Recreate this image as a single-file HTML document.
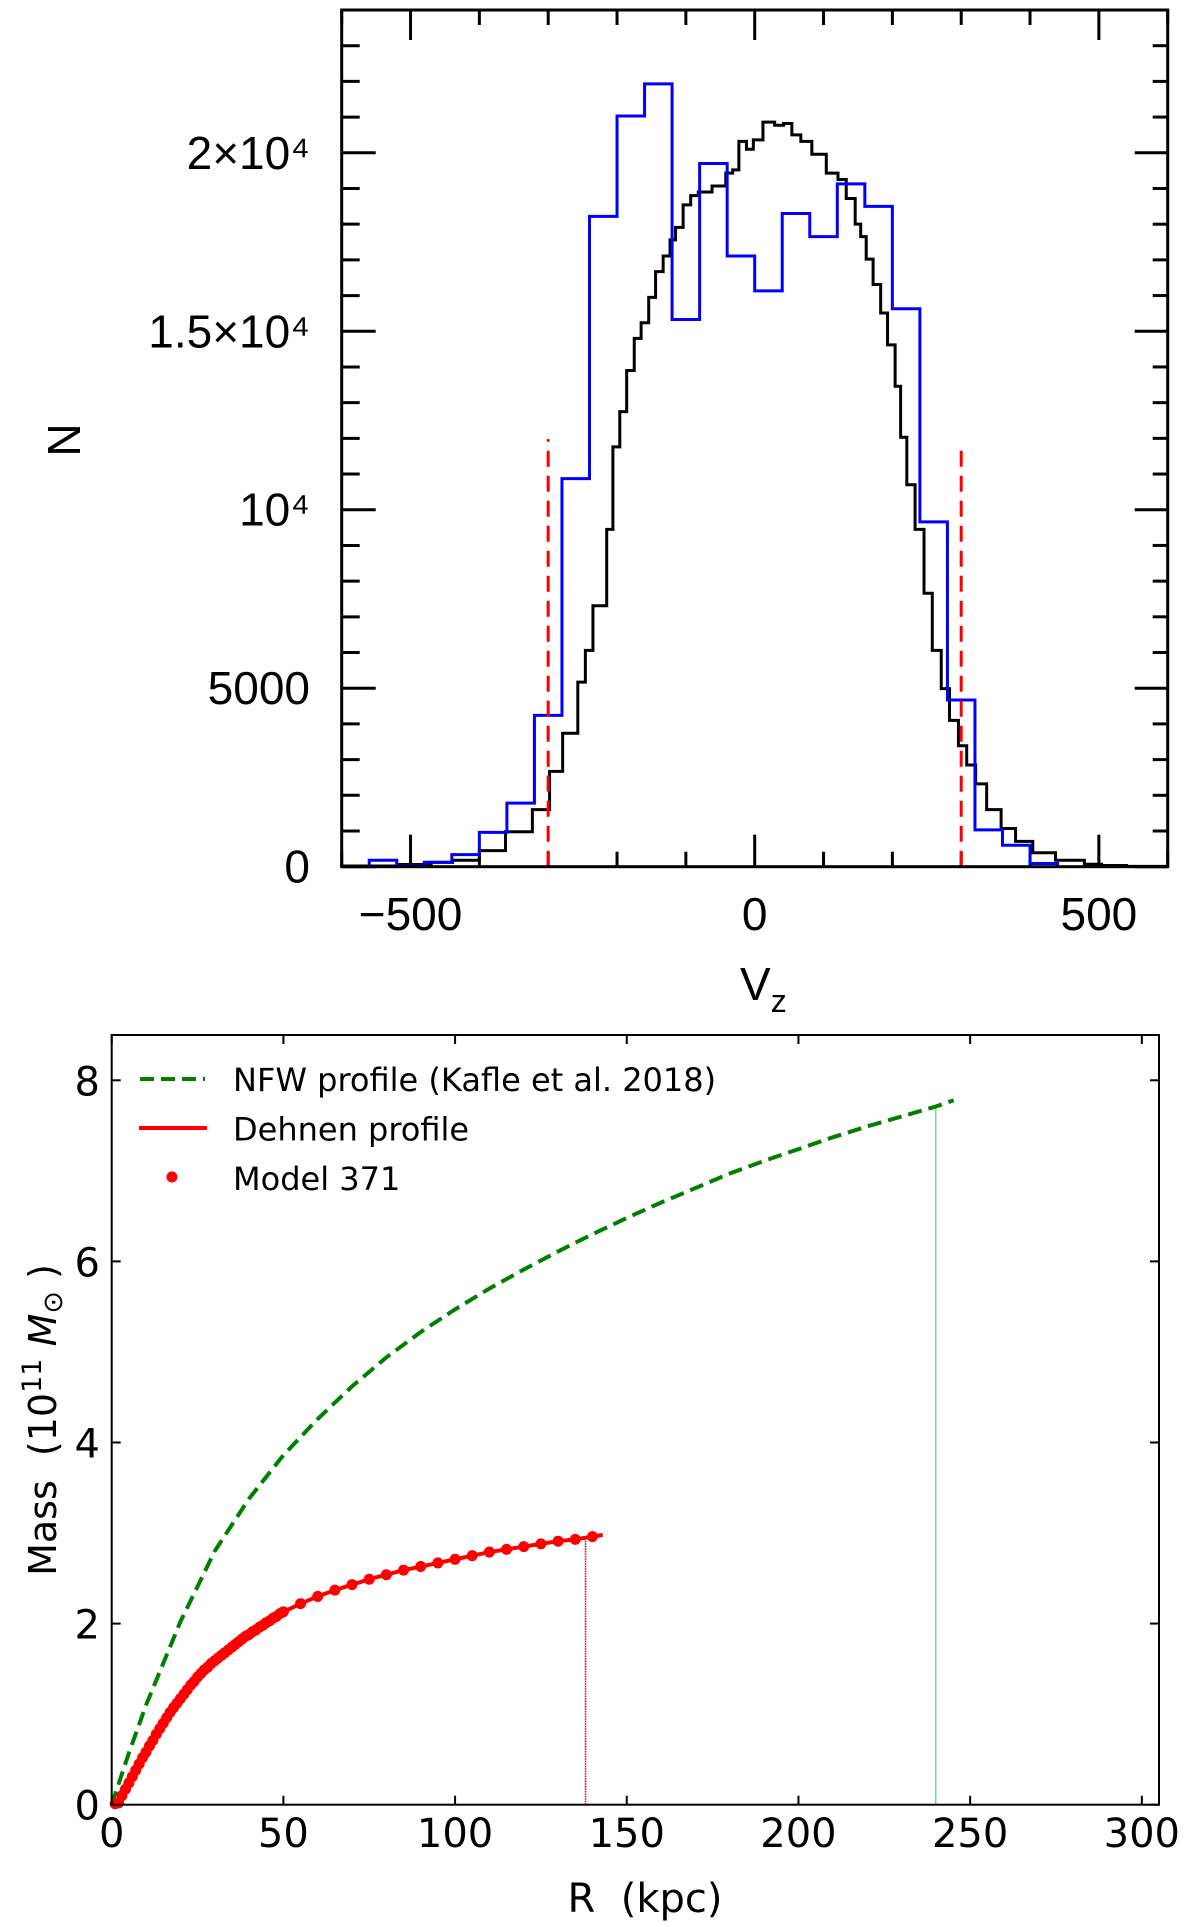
<!DOCTYPE html>
<html><head><meta charset="utf-8"><style>
html,body{margin:0;padding:0;background:#fff;}
svg{display:block;}
</style></head><body>
<svg id="fig" xmlns="http://www.w3.org/2000/svg" width="1200" height="1927" viewBox="0 0 1200 1927">
<rect width="1200" height="1927" fill="#fff"/>
<g id="top"></g>
<g id="bot"></g>
</svg>
<script>
// ---------- Top panel data ----------
const blueEdges = [-560,-520,-480,-440,-400,-360,-320,-280,-240,-200,-160,-120,-80,-40,0,40,80,120,160,200,240,280,320,360,400,440];
const blueCounts = [180,20,125,340,960,1780,4240,10870,18220,21030,21930,15330,19700,17110,16130,18300,17650,19130,18500,15630,9660,4670,1030,600,90];
const blackX = [-600,-520,-470,-439,-400,-362,-323,-298,-279,-257,-246,-235,-215,-206,-196,-186,-175,-165,-154,-144,-133,-123,-115,-104,-93,-82,-62,-42,-32,-23,-12,-2,12,29,42,54,67,83,104,121,133,146,154,162,172,183,193,204,212,221,233,246,258,271,283,296,308,321,337,358,379,404,437,479,504,540];
const blackN = [20,60,120,180,450,980,1600,2670,3740,5170,6060,7310,9450,11760,12750,13900,14800,15240,15950,16670,17110,17560,17910,18540,18800,18900,19070,19430,19520,20320,20100,20360,20860,20770,20820,20500,20320,19960,19430,19250,18720,18000,17650,17020,16310,15510,14620,13460,12030,10700,9450,7660,6060,4990,4100,3390,2850,2320,1600,1070,710,390,180,70,35,10];
const cutX = [-300,300];
const cutTop = [11980,11680];
const topYTicks = [0,5000,10000,15000,20000];
const topYLabels = ["0","5000","10⁴","1.5×10⁴","2×10⁴"];
const topXTicks = [-500,0,500];
const topXLabels = ["−500","0","500"];

// ---------- Bottom panel data ----------
const nfwR = [0,5,10,20,30,40,50,60,70,80,90,100,110,120,130,140,150,160,170,180,190,200,210,220,230,240,245.2];
const nfwM = [0,0.57,1.10,2.02,2.80,3.38,3.86,4.26,4.62,4.94,5.22,5.47,5.70,5.91,6.11,6.30,6.48,6.65,6.81,6.97,7.11,7.24,7.37,7.49,7.60,7.71,7.78];
const dehR = [0,2,4,6,8,10,12,14,16,18,20,22,24,26,28,30,32,34,36,38,40,42,44,46,48,50,55,60,65,70,75,80,85,90,95,100,105,110,115,120,125,130,135,140,143];
const dehM = [0,0.02,0.17,0.31,0.45,0.58,0.71,0.84,0.96,1.07,1.17,1.27,1.36,1.45,1.52,1.59,1.65,1.71,1.77,1.83,1.88,1.93,1.98,2.03,2.08,2.13,2.22,2.30,2.37,2.43,2.49,2.54,2.59,2.63,2.67,2.71,2.75,2.79,2.82,2.85,2.88,2.91,2.93,2.96,2.98];
const modelR = [1,2,3,4,5,6,7,8,9,10,11,12,13,14,15,16,17,18,19,20,21,22,23,24,25,26,27,28,29,30,31,32,33,34,35,36,37,38,39,40,41,42,43,44,45,46,47,48,49,50,55,60,65,70,75,80,85,90,95,100,105,110,115,120,125,130,135,140];
const modelM = [0.01,0.02,0.10,0.17,0.24,0.31,0.38,0.45,0.52,0.58,0.65,0.71,0.78,0.84,0.90,0.96,1.02,1.07,1.12,1.17,1.22,1.27,1.32,1.36,1.41,1.45,1.49,1.52,1.56,1.59,1.62,1.65,1.68,1.71,1.74,1.77,1.80,1.83,1.86,1.88,1.91,1.93,1.96,1.98,2.01,2.03,2.06,2.08,2.11,2.13,2.22,2.30,2.37,2.43,2.49,2.54,2.59,2.63,2.67,2.71,2.75,2.79,2.82,2.85,2.88,2.91,2.93,2.96];
const botXTicks = [0,50,100,150,200,250,300];
const botYTicks = [0,2,4,6,8];
const nfwVLine = [240, 7.70];
const dehVLine = [138, 2.95];

const NS = "http://www.w3.org/2000/svg";
function mk(parent, tag, attrs, text){
  const e = document.createElementNS(NS, tag);
  for (const k in attrs) e.setAttribute(k, attrs[k]);
  if (text !== undefined) e.textContent = text;
  parent.appendChild(e);
  return e;
}

// ---------- Top panel ----------
const T = document.getElementById('top');
const tL=341.7, tR=1167.7, tT=10, tB=866.7;
const tx = v => tL + (v + 600) / 1200 * (tR - tL);
const ty = n => tB - n / 24000 * (tB - tT);

for (let v = -600; v <= 600; v += 100) {
  const major = (v % 500 === 0);
  const len = major ? 32 : 15;
  const b = mk(T,'line',{x1:tx(v),x2:tx(v),y1:tB,y2:tB-len,stroke:'#000','stroke-width':3});
  
  
  const t = mk(T,'line',{x1:tx(v),x2:tx(v),y1:tT,y2:tT+(major?30:15),stroke:'#000','stroke-width':3});
  
  
}
for (let n = 0; n <= 24000; n += 1000) {
  const major = (n % 5000 === 0);
  const len = major ? 34 : 18;
  const l = mk(T,'line',{x1:tL,x2:tL+len,y1:ty(n),y2:ty(n),stroke:'#000','stroke-width':3});
  
  
  const r = mk(T,'line',{x1:tR,x2:tR-(major?33:15),y1:ty(n),y2:ty(n),stroke:'#000','stroke-width':3});
  
  
}
let d = 'M' + tx(blackX[0]) + ',' + ty(0);
for (let i = 0; i < blackX.length; i++) {
  const x0 = tx(blackX[i]);
  const x1 = tx(i + 1 < blackX.length ? blackX[i+1] : 600);
  d += ' L' + x0 + ',' + ty(blackN[i]) + ' L' + x1 + ',' + ty(blackN[i]);
}
const bh = mk(T,'path',{d:d,fill:'none',stroke:'#000','stroke-width':3});


d = 'M' + tx(blueEdges[0]) + ',' + ty(0);
for (let i = 0; i < blueCounts.length; i++) {
  d += ' L' + tx(blueEdges[i]) + ',' + ty(blueCounts[i]) + ' L' + tx(blueEdges[i+1]) + ',' + ty(blueCounts[i]);
}
d += ' L' + tx(blueEdges[blueEdges.length-1]) + ',' + ty(0);
const blh = mk(T,'path',{d:d,fill:'none',stroke:'#0000ff','stroke-width':3});


for (let i = 0; i < cutX.length; i++) {
  const c = mk(T,'line',{x1:tx(cutX[i]),x2:tx(cutX[i]),y1:ty(0),y2:ty(cutTop[i]),stroke:'#ff0000','stroke-width':3,'stroke-dasharray':'16,9'});
  
  
}
const tf = mk(T,'rect',{x:tL,y:tT,width:tR-tL,height:tB-tT,fill:'none',stroke:'#000','stroke-width':3});


for (let i = 0; i < topYTicks.length; i++) {
  const t = mk(T,'text',{x:310,y:ty(topYTicks[i])+16,'text-anchor':'end','font-family':'Liberation Sans, sans-serif','font-size':46,fill:'#000'},topYLabels[i]);
  
  
}
for (let i = 0; i < topXTicks.length; i++) {
  const t = mk(T,'text',{x:tx(topXTicks[i]),y:930,'text-anchor':'middle','font-family':'Liberation Sans, sans-serif','font-size':46,fill:'#000'},topXLabels[i]);
  
  
}
const nl = mk(T,'text',{x:0,y:0,transform:'translate(80,440) rotate(-90)','text-anchor':'middle','font-family':'Liberation Sans, sans-serif','font-size':46,fill:'#000'},'N');


const vl = mk(T,'text',{x:740,y:1000,'font-family':'Liberation Sans, sans-serif','font-size':46,fill:'#000'},'V');


mk(vl,'tspan',{dy:12,'font-size':32},'z');

// ---------- Bottom panel ----------
const B = document.getElementById('bot');
const bL=111.7, bR=1159, bT=1035, bB=1804.7;
const bx = r => bL + r / 305 * (bR - bL);
const by = m => bB - m / 8.5 * (bB - bT);

for (const v of botXTicks) {
  const a = mk(B,'line',{x1:bx(v),x2:bx(v),y1:bB,y2:bB-9,stroke:'#000','stroke-width':2});
  
  
  const b2 = mk(B,'line',{x1:bx(v),x2:bx(v),y1:bT,y2:bT+9,stroke:'#000','stroke-width':2});
  
  
  const t = mk(B,'text',{x:bx(v),y:1847,'text-anchor':'middle','font-family':'DejaVu Sans, sans-serif','font-size':40,fill:'#000'},String(v));
  
  
}
for (const v of botYTicks) {
  const a = mk(B,'line',{x1:bL,x2:bL+9,y1:by(v),y2:by(v),stroke:'#000','stroke-width':2});
  
  
  const b2 = mk(B,'line',{x1:bR,x2:bR-9,y1:by(v),y2:by(v),stroke:'#000','stroke-width':2});
  
  
  const t = mk(B,'text',{x:100,y:by(v)+15,'text-anchor':'end','font-family':'DejaVu Sans, sans-serif','font-size':40,fill:'#000'},String(v));
  
  
}
const gv = mk(B,'line',{x1:bx(nfwVLine[0]),x2:bx(nfwVLine[0]),y1:bB,y2:by(nfwVLine[1]),stroke:'#55cc88','stroke-width':1.2});


const rv = mk(B,'line',{x1:bx(dehVLine[0]),x2:bx(dehVLine[0]),y1:bB,y2:by(dehVLine[1]),stroke:'#cc0000','stroke-width':1.5,'stroke-dasharray':'1.5,1'});


const nfwPath = mk(B,'path',{d:nfwR.map((r,i)=>(i?'L':'M')+bx(r)+','+by(nfwM[i])).join(' '),fill:'none',stroke:'#007f00','stroke-width':4,'stroke-dasharray':'14,7','stroke-linejoin':'round'});


const dehPath = mk(B,'path',{d:dehR.map((r,i)=>(i?'L':'M')+bx(r)+','+by(dehM[i])).join(' '),fill:'none',stroke:'#ff0000','stroke-width':4,'stroke-linejoin':'round'});


for (let i = 0; i < modelR.length; i++) {
  const c = mk(B,'circle',{cx:bx(modelR[i]),cy:by(modelM[i]),r:5.5,fill:'#ff0000'});
  
  
}
const bf = mk(B,'rect',{x:bL,y:bT,width:bR-bL,height:bB-bT,fill:'none',stroke:'#000','stroke-width':2});


const lg = mk(B,'g',{});


const l1 = mk(lg,'line',{x1:140,x2:205,y1:1079,y2:1079,stroke:'#007f00','stroke-width':4,'stroke-dasharray':'14,7'});


const l2 = mk(lg,'line',{x1:139,x2:207,y1:1128,y2:1128,stroke:'#ff0000','stroke-width':4});


const l3 = mk(lg,'circle',{cx:172,cy:1177,r:5.5,fill:'#ff0000'});


const legTexts = ['NFW profile (Kafle et al. 2018)','Dehnen profile','Model 371'];
for (let i = 0; i < legTexts.length; i++) {
  const t = mk(lg,'text',{x:233,y:1091+i*49.5,'font-family':'DejaVu Sans, sans-serif','font-size':32,fill:'#000'},legTexts[i]);
  
  
}
const xt = mk(B,'text',{x:645,y:1912,'text-anchor':'middle','font-family':'DejaVu Sans, sans-serif','font-size':40,fill:'#000'},'R\u00a0\u00a0(kpc)');


const yt = mk(B,'text',{x:0,y:0,transform:'translate(56,1420) rotate(-90)','text-anchor':'middle','font-family':'DejaVu Sans, sans-serif','font-size':38,fill:'#000'});


yt.appendChild(document.createTextNode('Mass\u00a0\u00a0(10'));
mk(yt,'tspan',{dy:-15,'font-size':27},'11');
mk(yt,'tspan',{dy:15,'font-style':'italic'},'\u00a0M');
mk(yt,'tspan',{dy:6,'font-size':27},'⊙');
mk(yt,'tspan',{dy:-6},'\u00a0)');
</script>
</body></html>
